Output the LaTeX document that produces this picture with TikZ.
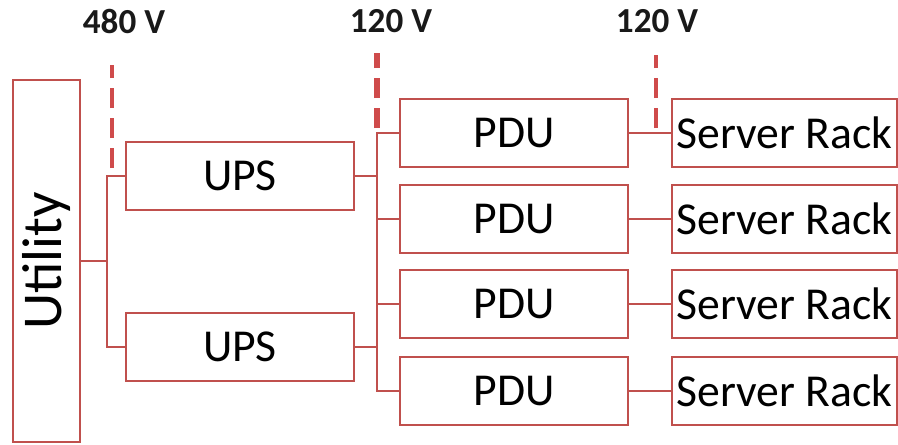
\documentclass[tikz,border=0pt]{standalone}
\usepackage{fontspec}
\setmainfont{Carlito}
\definecolor{boxred}{HTML}{C0504D}
\definecolor{dashred}{HTML}{CF4B4B}
\begin{document}
\begin{tikzpicture}[x=0.02cm,y=0.02cm,
	block/.style={draw=boxred,line width=1.5pt,inner sep=0pt,outer sep=0pt,minimum height=1.36cm,font=\fontsize{26}{30}\selectfont},
	wire/.style={draw=boxred,line width=1.5pt},
	level/.style={draw=dashred,line width=2.5pt,dash pattern=on 0.4cm off 0.2cm},
	volt/.style={font=\bfseries\fontsize{20}{24}\selectfont,text=black!90}]
	\useasboundingbox (0,0) rectangle (898,444);
	\node[block,minimum width=1.34cm,minimum height=7.24cm] (util) at (46.5,183) {\rotatebox{90}{\fontsize{32}{36}\selectfont Utility}};
	\node[block,minimum width=4.56cm] (ups1) at (240,268) {UPS};
	\node[block,minimum width=4.56cm] (ups2) at (240,97) {UPS};
	\foreach \y [count=\i] in {311,225,140,53} {
		\node[block,minimum width=4.56cm] (pdu\i) at (514,\y) {PDU};
		\node[block,minimum width=4.5cm] (rack\i) at (784.5,\y) {Server Rack};
		\draw[wire] (pdu\i) -- (rack\i);
	}
	\coordinate (split) at (107,183);
	\coordinate (bus) at (377,183);
	\draw[wire] (util) -- (split);
	\draw[wire] (ups1.west) -| (split) |- (ups2.west);
	\draw[wire] (pdu1.west) -| (bus) |- (pdu4.west);
	\draw[wire] (pdu2.west) -- (pdu2.west -| bus);
	\draw[wire] (pdu3.west) -- (pdu3.west -| bus);
	\draw[wire] (ups1.east) -- (ups1.east -| bus);
	\draw[wire] (ups2.east) -- (ups2.east -| bus);
	\node[volt] (v480) at (124,423) {480 V};
	\node[volt] (v120a) at (391,423) {120 V};
	\node[volt] (v120b) at (657,423) {120 V};
	\coordinate (m480a) at (112,276);
	\coordinate (m480b) at (112,379);
	\coordinate (m120a) at (377,316);
	\coordinate (m120b) at (377,391);
	\coordinate (m120c) at (656,316);
	\coordinate (m120d) at (656,389);
	\draw[level] (m480a) -- (m480b);
	\draw[level,line width=3.8pt] (m120a) -- (m120b);
	\draw[level] (m120c) -- (m120d);
\end{tikzpicture}
\end{document}
